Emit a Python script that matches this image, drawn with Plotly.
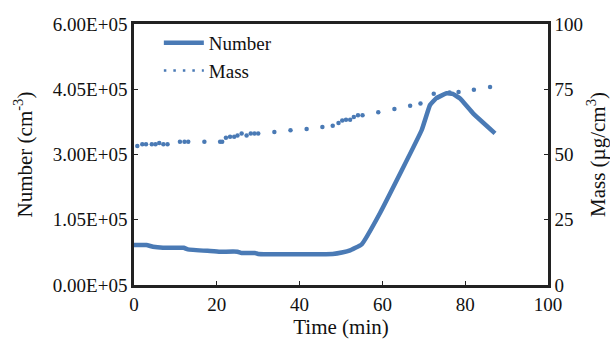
import plotly.graph_objects as go

# Number concentration (plotted on left axis, position scale 0..6e5)
num_time = [0, 3, 4.6, 7, 12, 13, 18.4, 20.8, 25, 26, 29.2, 30, 48, 50.5, 52, 55,
            59.4, 69.5, 71.5, 73, 75.5, 77, 78.7, 81.9, 87.2]
num_vals = [92000, 92000, 88000, 85700, 85700, 82000, 78200, 76600, 76600, 73600,
            73600, 71300, 71300, 75200, 78900, 93600,
            165000, 356300, 413800, 429200, 440700, 439100, 429200, 394700, 348700]

# Mass concentration (right axis)
mass_time = [0.8, 2.0, 2.9, 4.3, 5.2, 6.1, 7.1, 8.1, 11.1, 12.2, 13.1, 17.0, 20.8, 21.3,
             22.2, 23.2, 24.2, 25.0, 26.0, 27.2, 28.2, 29.1, 30.0, 33.9, 37.8, 41.7,
             45.5, 48.0, 49.4, 50.3, 51.2, 52.2, 53.1, 54.1, 55.2, 59.0, 62.9, 66.7,
             69.2, 72.4, 76.2, 78.4, 82.1, 86.0]
mass_vals = [53.3, 53.9, 53.9, 53.9, 53.9, 54.4, 53.9, 53.9, 54.9, 54.9, 54.9, 54.9, 54.9, 54.9,
             56.4, 56.8, 56.8, 57.3, 58.0, 57.3, 58.0, 58.0, 58.0, 58.6, 59.3, 59.8,
             60.5, 61.0, 62.1, 63.0, 63.3, 63.3, 64.4, 65.0, 65.0, 66.2, 67.4, 68.7,
             69.5, 73.3, 73.8, 73.9, 74.8, 75.9]

left_tickvals = [0, 150000, 300000, 450000, 600000]
left_ticktext = ["0.00E+05", "1.05E+05", "3.00E+05", "4.05E+05", "6.00E+05"]
right_tickvals = [0, 25, 50, 75, 100]
x_tickvals = [0, 20, 40, 60, 80, 100]

BLUE = "#4a7ab5"
FONT = "Liberation Serif"

fig = go.Figure()
fig.add_trace(go.Scatter(x=num_time, y=num_vals, mode="lines", name="Number",
                         line=dict(color=BLUE, width=4.5, shape="spline", smoothing=0.3)))
fig.add_trace(go.Scatter(x=mass_time, y=mass_vals, mode="markers", name="Mass",
                         yaxis="y2", showlegend=False,
                         marker=dict(color=BLUE, size=4.5)))
# legend entry for the dotted mass series
fig.add_trace(go.Scatter(x=[None], y=[None], mode="lines", name="Mass", yaxis="y2",
                         line=dict(color=BLUE, width=2.5, dash="2.5px,7px")))

axis_common = dict(showline=True, linecolor="#222", linewidth=2.5, ticks="inside",
                   ticklen=4, tickwidth=1.2, tickcolor="#222", showgrid=False,
                   zeroline=False, automargin=False,
                   tickfont=dict(family=FONT, size=19, color="#111"))

fig.update_layout(
    width=610, height=339,
    margin=dict(l=134, r=62, t=24, b=54),
    paper_bgcolor="white", plot_bgcolor="white",
    font=dict(family=FONT, size=19, color="#111"),
    showlegend=True,
    legend=dict(x=0.06, y=1.0, xanchor="left", yanchor="top",
                bgcolor="rgba(0,0,0,0)", font=dict(family=FONT, size=19),
                tracegroupgap=0, itemwidth=40),
    xaxis=dict(range=[0, 100], tickvals=x_tickvals, mirror=True,
               title=dict(text="Time (min)", font=dict(family=FONT, size=21)),
               **axis_common),
    yaxis=dict(range=[0, 600000], tickvals=left_tickvals, ticktext=left_ticktext,
               title=dict(text="Number (cm<sup>-3</sup>)", font=dict(family=FONT, size=21)),
               **axis_common),
    yaxis2=dict(range=[0, 100], tickvals=right_tickvals, overlaying="y", side="right",
                title=dict(text="Mass (µg/cm<sup>3</sup>)", font=dict(family=FONT, size=21)),
                **axis_common),
)

fig.write_html("out.html")
